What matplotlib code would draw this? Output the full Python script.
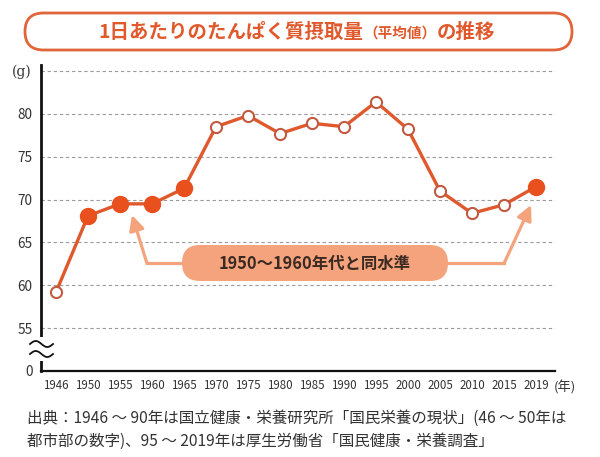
import matplotlib
matplotlib.use("Agg")
import matplotlib.pyplot as plt
import numpy as np
from matplotlib.patches import FancyBboxPatch, Rectangle
from matplotlib.transforms import Affine2D

plt.rcParams['font.family'] = ['Noto Sans CJK JP', 'DejaVu Sans']

# ---- data ----
years = ['1946', '1950', '1955', '1960', '1965', '1970', '1975', '1980',
         '1985', '1990', '1995', '2000', '2005', '2010', '2015', '2019']
protein = [59.2, 68.1, 69.5, 69.5, 71.3, 78.5, 79.8, 77.7,
           78.9, 78.5, 81.4, 78.2, 71.0, 68.4, 69.4, 71.5]
highlight_years = ['1950', '1955', '1960', '1965', '2019']
ytick_vals = [50, 55, 60, 65, 70, 75, 80]
ytick_labels = ['0', '55', '60', '65', '70', '75', '80']
grid_vals = [55, 60, 65, 70, 75, 80, 85]

title_main = '1日あたりのたんぱく質摂取量'
title_sub = '（平均値）'
title_end = 'の推移'
callout = '1950〜1960年代と同水準'
note1 = '出典：1946 〜 90年は国立健康・栄養研究所「国民栄養の現状」(46 〜 50年は'
note2 = '都市部の数字)、95 〜 2019年は厚生労働省「国民健康・栄養調査」'

LINE = '#E0592C'
FILL = '#E8501E'
OPEN_EDGE = '#C25A42'
SALMON = '#F4A37D'
TEXT = '#333333'

W, H = 600, 457
fig = plt.figure(figsize=(6, 4.57), dpi=100)
pix = Affine2D().scale(1 / W, -1 / H).translate(0, 1) + fig.transFigure

ax_left, ax_right, ax_top, ax_bot = 41, 555, 65, 371
ax = fig.add_axes([ax_left / W, 1 - ax_bot / H, (ax_right - ax_left) / W, (ax_bot - ax_top) / H])

x = np.arange(len(years))
px_per_idx = 32.0
x0_px = 56
ax.set_xlim(-(x0_px - ax_left) / px_per_idx, (ax_right - x0_px) / px_per_idx)
ppu = 300 / 35.0
ax.set_ylim(50, 85 + (71 - ax_top) / ppu)

for g in grid_vals:
    ax.axhline(g, color='#9a9a9a', lw=0.8, ls=(0, (3, 2.5)), zorder=1)

ax.plot(x, protein, color=LINE, lw=2.4, zorder=3, solid_capstyle='round')
hi = np.array([y in highlight_years for y in years])
pv = np.array(protein)
ax.plot(x[~hi], pv[~hi], 'o', ms=8, mfc='white', mec=OPEN_EDGE, mew=1.5, zorder=4, ls='none')
ax.plot(x[hi], pv[hi], 'o', ms=11.5, mfc=FILL, mec=FILL, zorder=4, ls='none')

for s in ['top', 'right']:
    ax.spines[s].set_visible(False)
ax.spines['left'].set_linewidth(2.0)
ax.spines['bottom'].set_linewidth(1.6)
ax.spines['left'].set_color('#111111')
ax.spines['bottom'].set_color('#111111')

ax.set_xticks(x)
ax.set_xticklabels(years, fontsize=8.3, color=TEXT)
ax.set_yticks(ytick_vals)
ax.set_yticklabels(ytick_labels, fontsize=9.8, color=TEXT)
ax.tick_params(axis='both', length=0)
ax.tick_params(axis='y', pad=6)
ax.tick_params(axis='x', pad=6)

fig.text(22 / W, 1 - 72 / H, '(g)', fontsize=10, color=TEXT, ha='center', va='center',
         family=['DejaVu Serif'])
fig.text(565 / W, 1 - 388 / H, '(年)', fontsize=9.5, color=TEXT, ha='center', va='center')

# axis break
ax.add_patch(Rectangle((36, 337), 12, 24, transform=pix, facecolor='white',
                       edgecolor='none', zorder=5, clip_on=False))
wx = np.linspace(30, 53, 60)
for yc in (344, 354):
    wy = yc - 3.0 * np.sin(2 * np.pi * (wx - 30) / 23)
    ax.plot(wx, wy, color='#111111', lw=1.3, transform=pix, clip_on=False, zorder=6)

# callout arrows (data coords)
def to_idx(px):
    return (px - x0_px) / px_per_idx

def to_val(py):
    return 50 + (ax_bot - py) / ppu

ax.plot([to_idx(184), to_idx(147)], [to_val(263), to_val(263)], color=SALMON, lw=2.3, zorder=2)
ax.annotate('', xy=(to_idx(132), to_val(215)), xytext=(to_idx(147), to_val(263.5)),
            arrowprops=dict(arrowstyle='-|>,head_length=0.9,head_width=0.45', lw=2.3,
                            color=SALMON, shrinkA=0, shrinkB=0), zorder=2)
ax.plot([to_idx(446), to_idx(504)], [to_val(263), to_val(263)], color=SALMON, lw=2.3, zorder=2)
ax.annotate('', xy=(to_idx(531), to_val(205)), xytext=(to_idx(504), to_val(263.5)),
            arrowprops=dict(arrowstyle='-|>,head_length=0.9,head_width=0.45', lw=2.3,
                            color=SALMON, shrinkA=0, shrinkB=0), zorder=2)

pill = FancyBboxPatch((182, 245), 266, 36, boxstyle='round,pad=0,rounding_size=18',
                      transform=pix, facecolor=SALMON, edgecolor='none', zorder=3, clip_on=False)
ax.add_patch(pill)
ax.text(315, 264, callout, transform=pix, fontsize=11.8, fontweight='bold', color='#3a2a22',
        ha='center', va='center', zorder=4, clip_on=False)

# title box
tbox = FancyBboxPatch((25, 13), 547, 37, boxstyle='round,pad=0,rounding_size=18.5',
                      transform=pix, facecolor='white', edgecolor='#E0653A', lw=2.0)
fig.add_artist(tbox)

renderer = fig.canvas.get_renderer()
pieces = [(title_main, 14), (title_sub, 10.5), (title_end, 14)]
arts = []
for s, fs in pieces:
    t = fig.text(0, 0, s, fontsize=fs, fontweight='bold', color='#E0592C', va='baseline',
                 transform=pix)
    arts.append(t)
widths = [a.get_window_extent(renderer).width for a in arts]
total = sum(widths)
cx = 297
start = cx - total / 2
base = 38
for a, w in zip(arts, widths):
    a.set_position((start, base))
    start += w

fig.text(27 / W, 1 - 418 / H, note1, fontsize=11.2, color=TEXT, ha='left', va='center')
fig.text(27 / W, 1 - 441 / H, note2, fontsize=11.2, color=TEXT, ha='left', va='center')

fig.savefig('out.png', dpi=100)
